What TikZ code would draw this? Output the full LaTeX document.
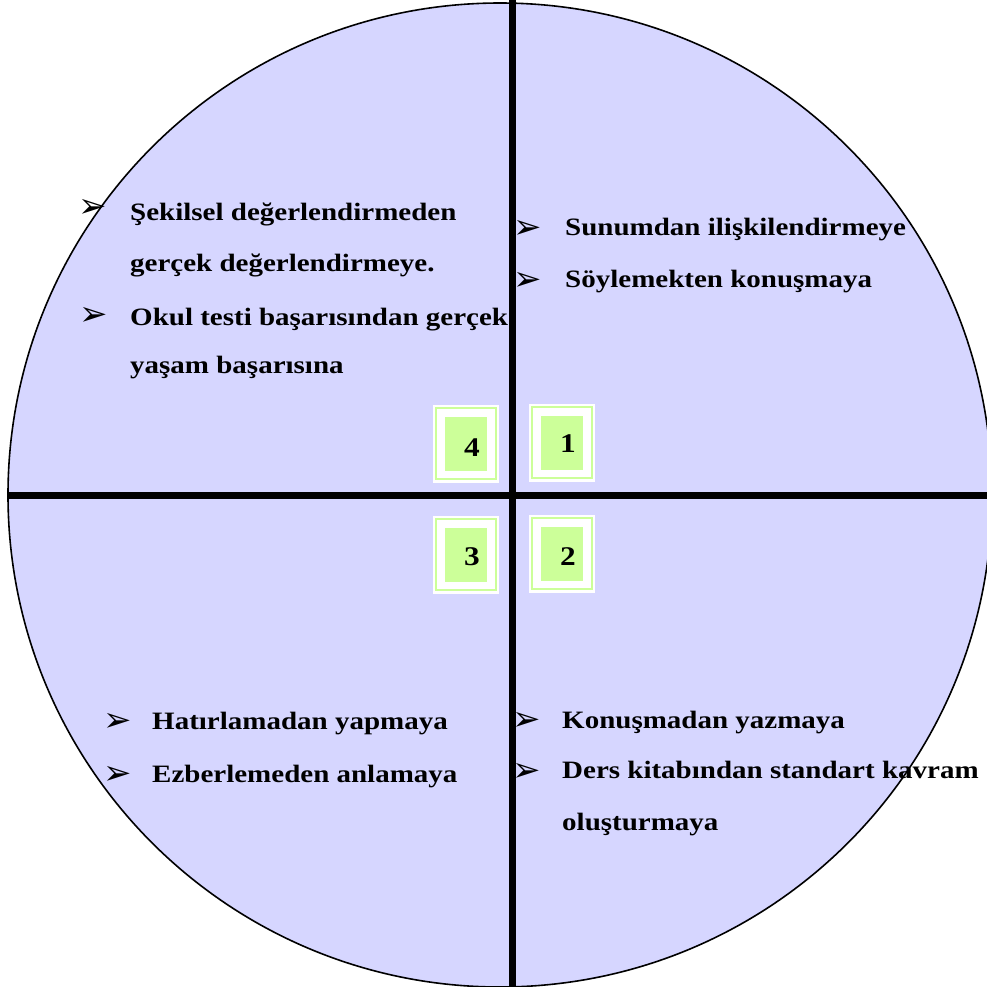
\documentclass[tikz,border=0pt]{standalone}
\usepackage{fontspec}
\setmainfont{Liberation Serif}[FakeStretch=1.16]
\newfontfamily\symfont{DejaVu Sans}
\definecolor{discfill}{RGB}{214,214,255}
\definecolor{boxgreen}{RGB}{204,255,153}
\begin{document}
\begin{tikzpicture}[x=1pt,y=-1pt,
  item/.style={anchor=base west, inner sep=0pt, font=\fontsize{25}{30}\selectfont\bfseries},
  arrowbullet/.style={anchor=center, inner sep=0pt, font=\fontsize{34}{36}\symfont},
  numlabel/.style={inner sep=0pt, font=\fontsize{27}{30}\selectfont\bfseries},
  axis/.style={line width=7pt},
  numbox/.pic={
    \fill[white] (-33,-39) rectangle (33,39);
    \draw[boxgreen, line width=1.2pt] (-30,-36) rectangle (30,35);
    \fill[boxgreen] (-21,-27) rectangle (21,27);
  }
]
\useasboundingbox (0,0) rectangle (987,986);
\clip (0,0) rectangle (987,986);

% disc background
\fill[discfill] (500,495) circle [radius=492pt];

% axes
\coordinate (ntop) at (512,0);
\coordinate (nbot) at (512,986);
\coordinate (wleft) at (8,495);
\coordinate (eright) at (987,495);
\draw[axis] (ntop) -- (nbot);
\draw[axis] (wleft) -- (eright);

% quadrant numbers
\pic at (466,444) {numbox};
\pic at (562,443) {numbox};
\pic at (466,555) {numbox};
\pic at (562,554) {numbox};
\node[numlabel] (n4) at (472,448) {4};
\node[numlabel] (n1) at (568,444) {1};
\node[numlabel] (n3) at (472,557) {3};
\node[numlabel] (n2) at (568,557) {2};

% quadrant 1
\node[arrowbullet] (b11) at (528,229) {➢};
\node[item] (t11) at (565,235) {Sunumdan ilişkilendirmeye};
\node[arrowbullet] (b12) at (528,281) {➢};
\node[item] (t12) at (565,287) {Söylemekten konuşmaya};

% quadrant 4
\node[arrowbullet] (b41) at (93,208) {➢};
\node[item] (t41) at (130,220) {Şekilsel değerlendirmeden};
\node[item] (t42) at (130,271) {gerçek değerlendirmeye.};
\node[arrowbullet] (b43) at (94,316) {➢};
\node[item] (t43) at (130,325) {Okul testi başarısından gerçek};
\node[item] (t44) at (130,373) {yaşam başarısına};

% quadrant 3
\node[arrowbullet] (b31) at (118,722) {➢};
\node[item] (t31) at (152,729) {Hatırlamadan yapmaya};
\node[arrowbullet] (b32) at (118,775) {➢};
\node[item] (t32) at (152,782) {Ezberlemeden anlamaya};

% quadrant 2
\node[arrowbullet] (b21) at (527,721) {➢};
\node[item] (t21) at (562,728) {Konuşmadan yazmaya};
\node[arrowbullet] (b22) at (527,772) {➢};
\node[item] (t22) at (562,778) {Ders kitabından standart kavram};
\node[item] (t23) at (562,830) {oluşturmaya};

% disc outline on top
\draw[line width=1.6pt] (500,495) circle [radius=492pt];
\end{tikzpicture}
\end{document}
